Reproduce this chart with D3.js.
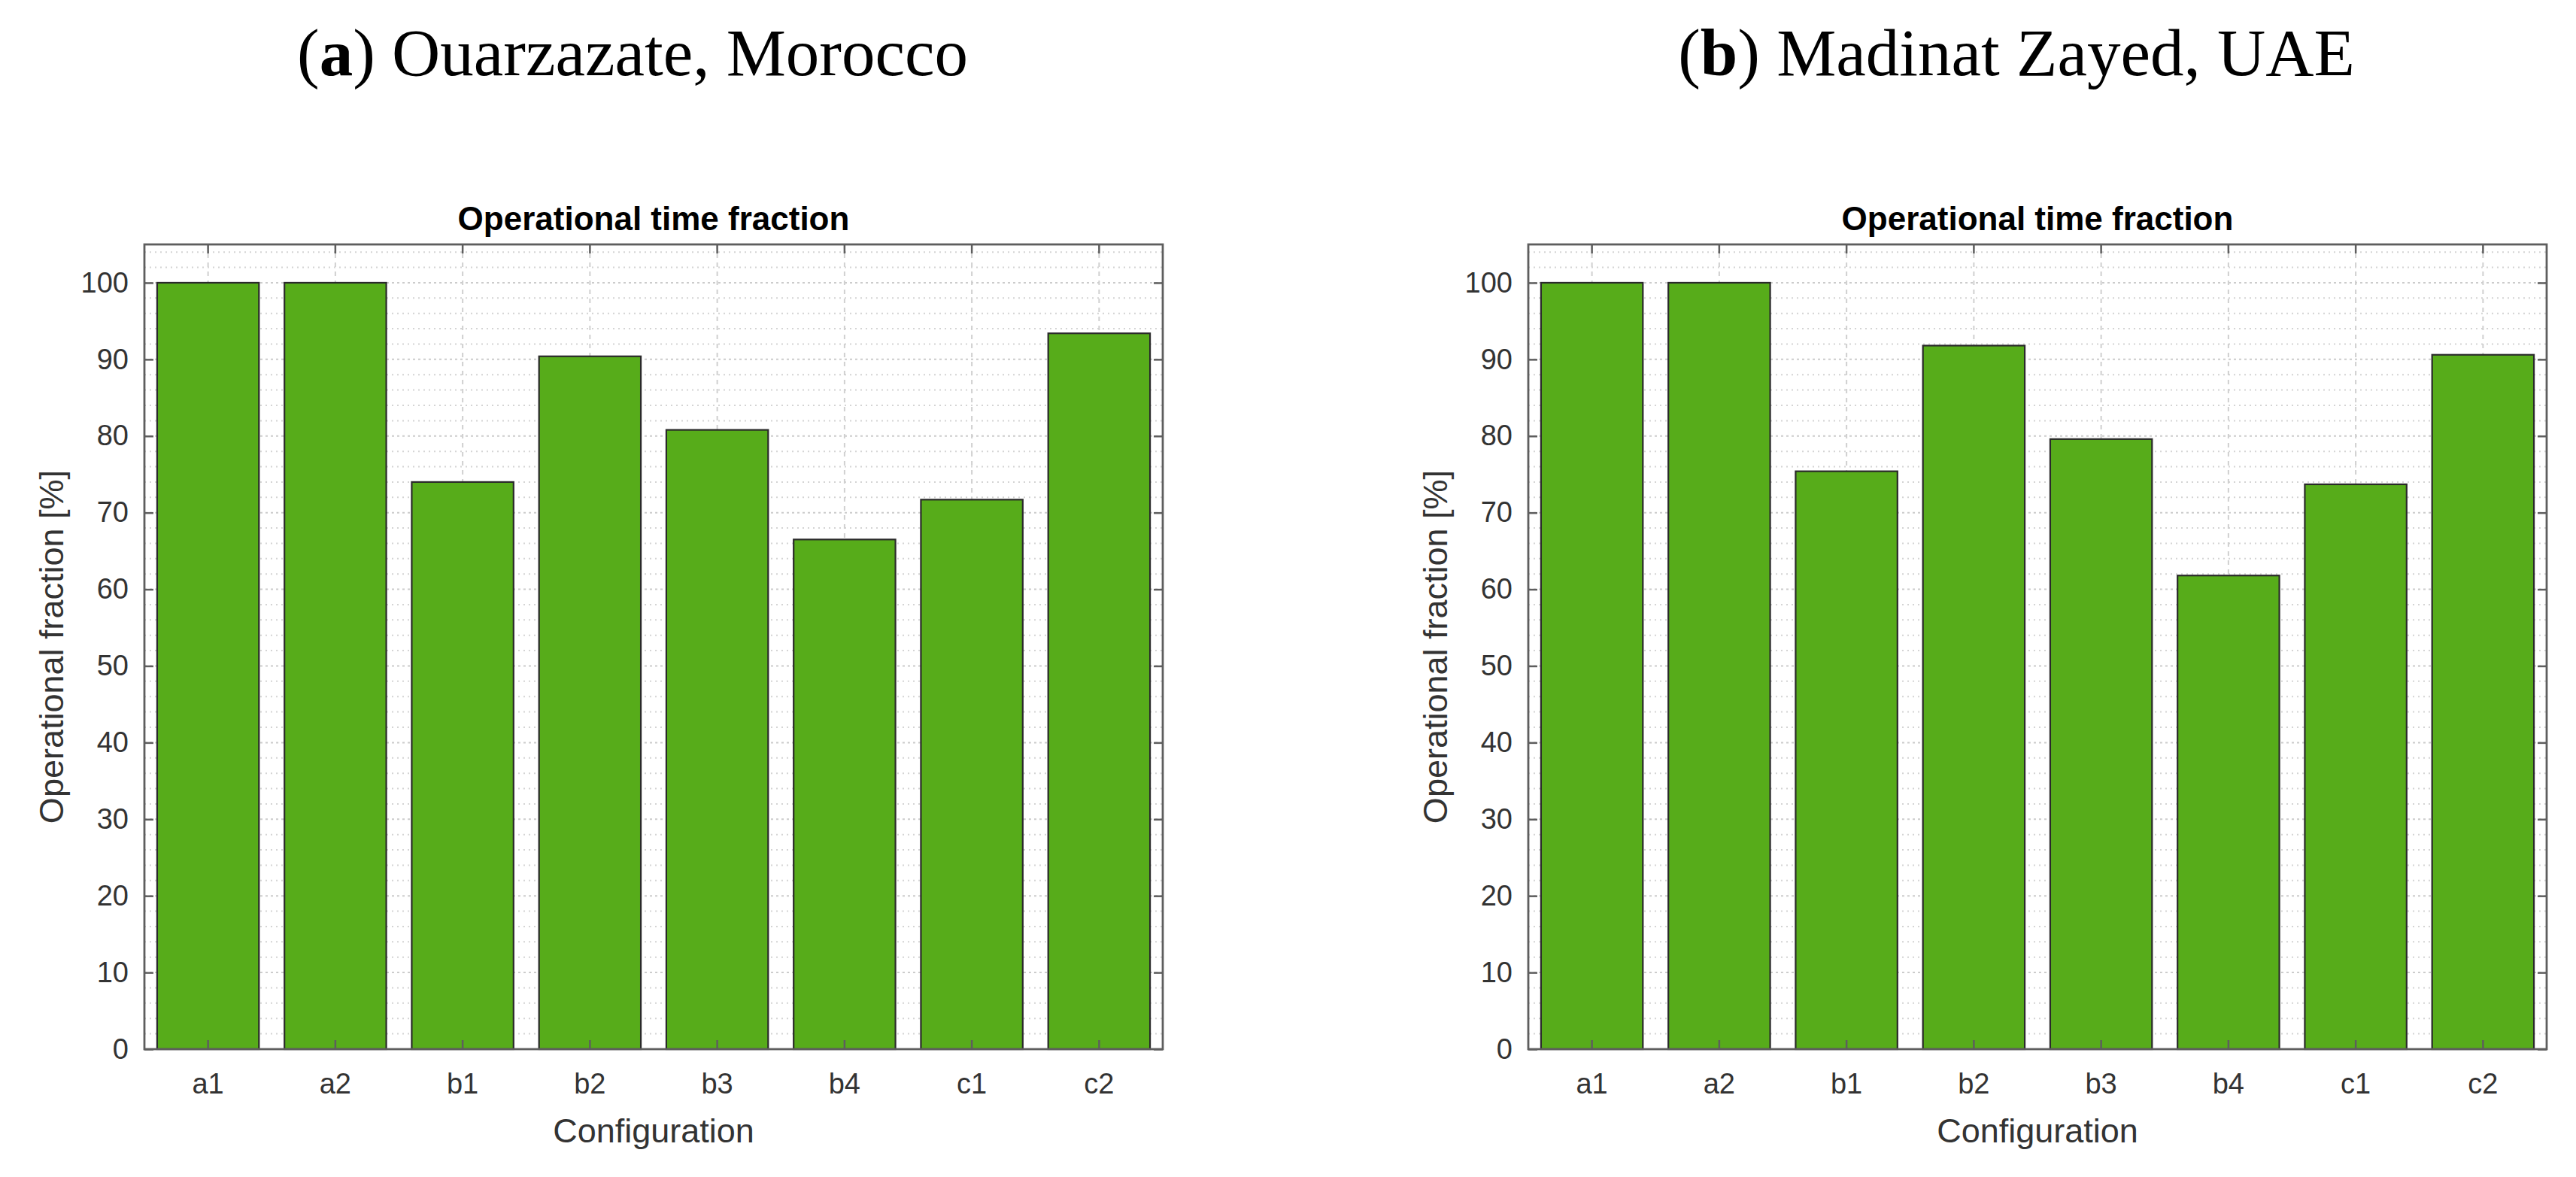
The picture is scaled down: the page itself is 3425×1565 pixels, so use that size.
<!DOCTYPE html>
<html>
<head>
<meta charset="utf-8">
<script src="https://cdn.jsdelivr.net/npm/d3@7"></script>
<style>
  html, body { margin: 0; padding: 0; background: #ffffff; }
  svg { display: block; }
</style>
</head>
<body>
<script>
// ---- data ----
const categories = ["a1", "a2", "b1", "b2", "b3", "b4", "c1", "c2"];
const valuesOuarzazate = [100, 100, 74.0, 90.4, 80.8, 66.5, 71.7, 93.4];
const valuesMadinatZayed = [100, 100, 75.4, 91.8, 79.6, 61.8, 73.7, 90.6];
const yTicks = [0, 10, 20, 30, 40, 50, 60, 70, 80, 90, 100];
const panelLetters = ["a", "b"];
const panelPlaces = [" Ouarzazate, Morocco", " Madinat Zayed, UAE"];
const subplotTitle = "Operational time fraction";
const xLabel = "Configuration";
const yLabel = "Operational fraction [%]";

const W = 3425, H = 1565;
const svg = d3.select("body").append("svg").attr("width", W).attr("height", H);

const panels = [
  { x0: 192, x1: 1546, values: valuesOuarzazate, titleX: 841 },
  { x0: 2032, x1: 3386, values: valuesMadinatZayed, titleX: 2681 }
];
const yTop = 325, yBot = 1395;
const barColor = "#57ac1a";
const textColor = "#333333";
const axisColor = "#5e5e5e";

panels.forEach((p, i) => {
  const g = svg.append("g");
  const x = d3.scaleBand().domain(categories).range([p.x0, p.x1])
    .paddingInner(0.2).paddingOuter(0.1);
  const xc = d => x(d) + x.bandwidth() / 2;
  const y = d3.scaleLinear().domain([0, 105]).range([yBot, yTop]);

  // main panel title
  const t = g.append("text")
    .attr("x", p.titleX).attr("y", 100)
    .attr("text-anchor", "middle")
    .style("font-family", "'Liberation Serif', 'DejaVu Serif', serif")
    .style("font-size", "89px").attr("fill", "#000");
  t.append("tspan").text("(");
  t.append("tspan").style("font-weight", "bold").text(panelLetters[i]);
  t.append("tspan").text(")" + panelPlaces[i]);

  // minor horizontal grid (every 2)
  const minor = d3.range(0, 106, 2).filter(v => v % 10 !== 0 && v < 105);
  g.append("g").selectAll("line").data(minor).join("line")
    .attr("x1", p.x0).attr("x2", p.x1)
    .attr("y1", d => y(d)).attr("y2", d => y(d))
    .attr("stroke", "#d4d4d4").attr("stroke-width", 2)
    .attr("stroke-dasharray", "2,5");
  // major horizontal grid
  g.append("g").selectAll("line").data(yTicks).join("line")
    .attr("x1", p.x0).attr("x2", p.x1)
    .attr("y1", d => y(d)).attr("y2", d => y(d))
    .attr("stroke", "#cccccc").attr("stroke-width", 2)
    .attr("stroke-dasharray", "3,4");
  // vertical grid at category centres
  g.append("g").selectAll("line").data(categories).join("line")
    .attr("x1", d => xc(d)).attr("x2", d => xc(d))
    .attr("y1", yTop).attr("y2", yBot)
    .attr("stroke", "#d0d0d0").attr("stroke-width", 2)
    .attr("stroke-dasharray", "6,6");

  // bars
  g.append("g").selectAll("rect").data(categories).join("rect")
    .attr("x", d => x(d))
    .attr("width", x.bandwidth())
    .attr("y", (d, j) => y(p.values[j]))
    .attr("height", (d, j) => y(0) - y(p.values[j]))
    .attr("fill", barColor)
    .attr("stroke", "#2a2a2a").attr("stroke-width", 2.2);

  // axes (ticks inside, MATLAB style)
  const styleAxis = (sel) => {
    sel.select(".domain").remove();
    sel.selectAll(".tick line").attr("stroke", axisColor).attr("stroke-width", 2.5);
    sel.selectAll(".tick text").attr("fill", textColor)
      .style("font-family", "'Liberation Sans', Arial, sans-serif")
      .style("font-size", "38px");
  };
  g.append("g").attr("transform", `translate(${p.x0},0)`)
    .call(d3.axisLeft(y).tickValues(yTicks).tickSize(-12).tickPadding(21))
    .call(styleAxis);
  g.append("g").attr("transform", `translate(${p.x1},0)`)
    .call(d3.axisRight(y).tickValues(yTicks).tickSize(-12).tickFormat(""))
    .call(styleAxis);
  g.append("g").attr("transform", `translate(0,${yBot})`)
    .call(d3.axisBottom(x).tickSize(-12).tickPadding(32))
    .call(styleAxis);
  g.append("g").attr("transform", `translate(0,${yTop})`)
    .call(d3.axisTop(x).tickSize(-12).tickFormat(""))
    .call(styleAxis);

  // box
  g.append("rect")
    .attr("x", p.x0).attr("y", yTop)
    .attr("width", p.x1 - p.x0).attr("height", yBot - yTop)
    .attr("fill", "none").attr("stroke", axisColor).attr("stroke-width", 2.8);

  // subplot title
  g.append("text")
    .attr("x", (p.x0 + p.x1) / 2).attr("y", 306)
    .attr("text-anchor", "middle")
    .style("font-family", "'Liberation Sans', Arial, sans-serif")
    .style("font-size", "44px").style("font-weight", "bold")
    .attr("fill", "#000").text(subplotTitle);

  // x label
  g.append("text")
    .attr("x", (p.x0 + p.x1) / 2).attr("y", 1519)
    .attr("text-anchor", "middle")
    .style("font-family", "'Liberation Sans', Arial, sans-serif")
    .style("font-size", "45px")
    .attr("fill", textColor).text(xLabel);

  // y label
  g.append("text")
    .attr("transform", `translate(${p.x0 - 108},${(yTop + yBot) / 2}) rotate(-90)`)
    .attr("text-anchor", "middle")
    .style("font-family", "'Liberation Sans', Arial, sans-serif")
    .style("font-size", "45px")
    .attr("fill", textColor).text(yLabel);
});
</script>
</body>
</html>
